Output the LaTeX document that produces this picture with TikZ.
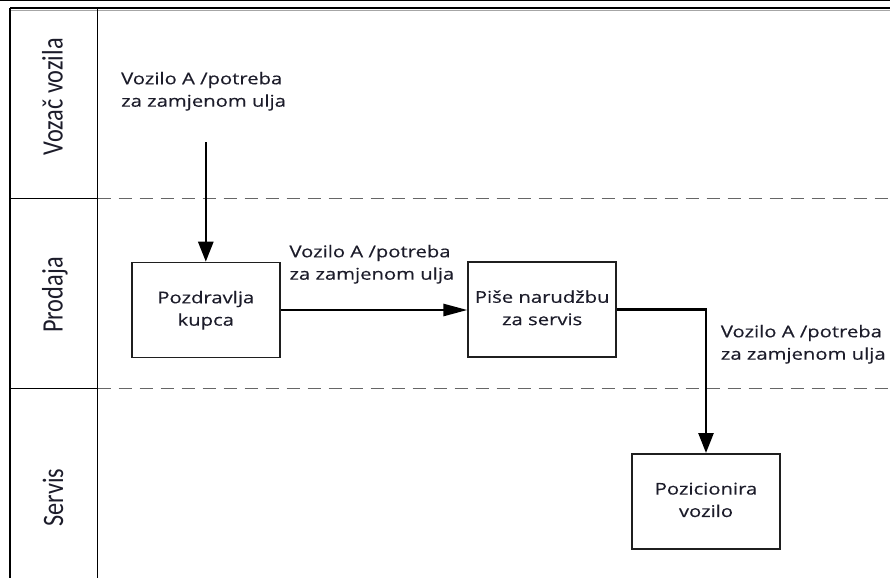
\documentclass[tikz,border=0pt]{standalone}
\usepackage{fontspec}
\setmainfont{Open Sans}[FakeBold=0.3,AutoFakeBold=0.3]
\newfontfamily\lanefont{Carlito}
\usetikzlibrary{arrows.meta}
\definecolor{txt}{HTML}{1C1C2A}
\newcommand\hstretch[1]{\scalebox{1.25}[1]{#1}}
\newcommand\lbltext[1]{\hstretch{\begin{tabular}[t]{@{}l@{}}#1\end{tabular}}}
\newcommand\boxtext[1]{\hstretch{\begin{tabular}{@{}c@{}}#1\end{tabular}}}
\tikzset{
  lane/.style={rotate=90,anchor=base,inner sep=0pt,text=txt,font=\lanefont\fontsize{24.3}{29}\selectfont},
  flowlbl/.style={anchor=base west,inner sep=0pt,text=txt,font=\bfseries\fontsize{16.2}{22.4}\selectfont},
  task/.style={draw=black!88,line width=1.6pt,inner sep=0pt,minimum width=148pt,minimum height=95pt,text=txt,font=\bfseries\fontsize{16.2}{22.4}\selectfont},
  flow/.style={line width=2.6pt,black},
  vhead/.style={-{Triangle[length=20pt,width=15pt]}},
  hhead/.style={-{Triangle[length=24pt,width=12pt]}},
  sep/.style={line width=1.4pt,draw=black!60,dash pattern=on 13pt off 8pt}
}
\begin{document}
\begin{tikzpicture}[x=1pt,y=-1pt]
\useasboundingbox (0,0) rectangle (890,578);
% pool frame
\draw[line width=1.2pt] (0,0.8) -- (890,0.8);
\draw[black!35,line width=1pt] (10,10.5) -- (890,10.5);
\draw[line width=2.6pt] (10,8) -- (890,8);
\draw[line width=2.6pt] (10,8) -- (10,578);
\draw[line width=1.6pt] (97.5,8) -- (97.5,578);
\draw[line width=1.4pt] (10,198.3) -- (97.5,198.3);
\draw[line width=1.4pt] (10,388.4) -- (97.5,388.4);
\draw[sep] (97.5,198.3) -- (890,198.3);
\draw[sep] (97.5,388.4) -- (890,388.4);
% lane labels
\node[lane] (l1) at (62.5,97) {\scalebox{1}[1.22]{Vozač vozila}};
\node[lane] (l2) at (62.5,295) {\scalebox{1}[1.22]{Prodaja}};
\node[lane] (l3) at (63,497.5) {\scalebox{1}[1.22]{Servis}};
% tasks
\node[task] (b1) at (205.8,310) {\boxtext{Pozdravlja\\kupca}};
\node[task] (b2) at (542.2,309.5) {\boxtext{Piše narudžbu\\za servis}};
\node[task] (b3) at (706,501.3) {\boxtext{Pozicionira\\vozilo}};
% flow labels
\node[flowlbl] (t1) at (121,84.3) {\lbltext{Vozilo A /potreba\\za zamjenom ulja}};
\node[flowlbl] (t2) at (289.3,257.3) {\lbltext{Vozilo A /potreba\\za zamjenom ulja}};
\node[flowlbl] (t3) at (720.7,337.3) {\lbltext{Vozilo A /potreba\\za zamjenom ulja}};
% flows
\coordinate (s1) at (205.8,142);
\draw[flow,vhead] (s1) -- (b1.north);
\draw[flow,hhead] (b1.east) -- (b2.west |- b1.east);
\draw[flow,vhead] (b2.east) -| (b3.north);
\end{tikzpicture}
\end{document}
